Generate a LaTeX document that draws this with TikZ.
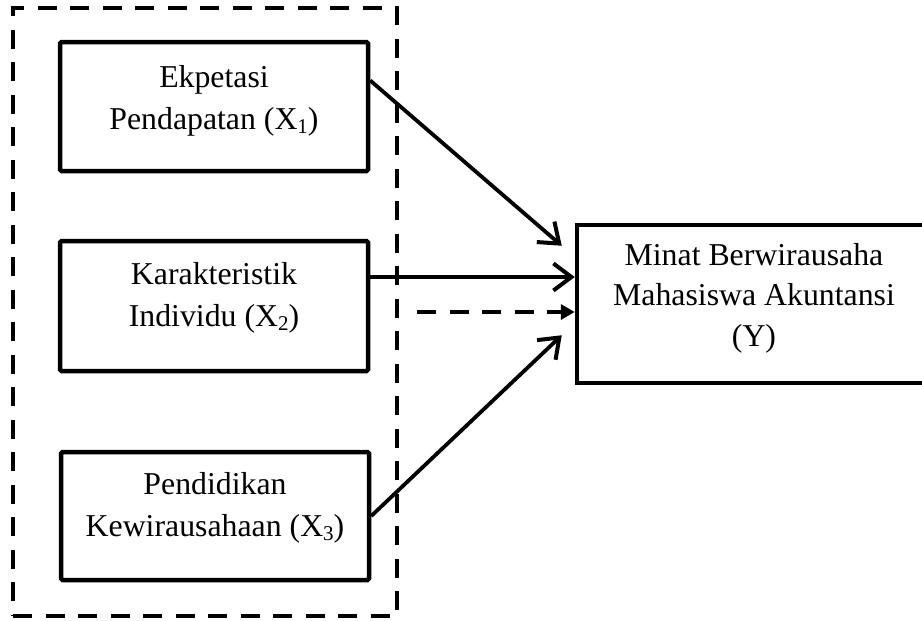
\documentclass[tikz,border=0pt]{standalone}
\usepackage{fontspec}
\setmainfont{Liberation Serif}
\usetikzlibrary{arrows.meta,calc}
\newcommand{\mysub}[1]{\raisebox{-4pt}{\fontsize{21}{21}\selectfont #1}}
\begin{document}
\begin{tikzpicture}[x=1pt,y=-1pt,
  box/.style={draw,line width=4.5pt,rounded corners=1.5pt,inner sep=0pt,
    minimum width=308pt,minimum height=129pt},
  txt/.style={align=center,inner sep=0pt,font=\fontsize{31.8}{42}\selectfont},
  grp/.style={draw,line width=4.8pt,dash pattern=on 19pt off 13.5pt,inner sep=0pt,
    minimum width=384pt,minimum height=608pt},
  arr/.style={line width=3.8pt,-{Straight Barb[length=18pt,width=27pt,line width=4pt]}},
  darr/.style={line width=4.3pt,dash pattern=on 19pt off 13.5pt,
    -{Triangle[length=14pt,width=15pt]}}
]
\useasboundingbox (0,0) rectangle (922,621);
\node[grp] (G) at (205,312) {};
\node[box] (X1) at (214,106.5) {};
\node[txt,yshift=6pt] (T1) at (X1) {Ekpetasi\\Pendapatan (X\mysub{1})};
\node[box,minimum height=130pt] (X2) at (214,306) {};
\node[txt,yshift=8pt] (T2) at (X2) {Karakteristik\\Individu (X\mysub{2})};
\node[box,minimum height=128pt] (X3) at (215,516) {};
\node[txt,yshift=8pt] (T3) at (X3) {Pendidikan\\Kewirausahaan (X\mysub{3})};
\node[box,minimum width=354pt,minimum height=158pt,rounded corners=0pt] (Y) at (754,304) {};
\node[txt,yshift=6pt,font=\fontsize{31.8}{40.5}\selectfont] (TY) at (Y) {Minat Berwirausaha\\Mahasiswa Akuntansi\\(Y)};
\draw[arr] ([yshift=26pt]X1.east) -- ([xshift=-13pt,yshift=-23pt]Y.north west);
\draw[arr] ([yshift=29pt]X2.east) -- ([yshift=29pt]X2.east -| Y.west);
\draw[darr] ([xshift=18pt]G.east) -- (G.east -| Y.west);
\draw[arr] (X3.east) -- ([xshift=-13pt,yshift=50pt]Y.south west);
\end{tikzpicture}
\end{document}
